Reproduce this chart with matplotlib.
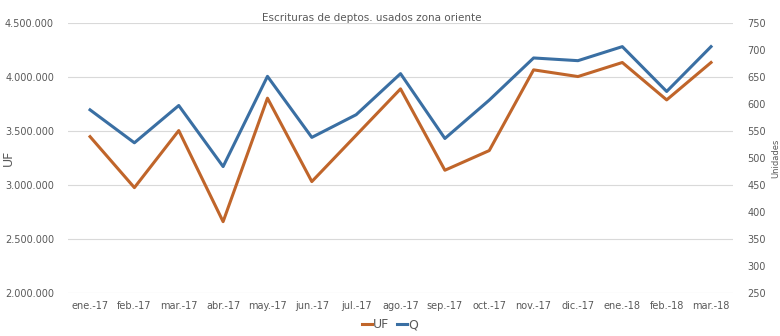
import matplotlib.pyplot as plt
from matplotlib.ticker import FuncFormatter

months = ['ene.-17', 'feb.-17', 'mar.-17', 'abr.-17', 'may.-17', 'jun.-17', 'jul.-17',
          'ago.-17', 'sep.-17', 'oct.-17', 'nov.-17', 'dic.-17', 'ene.-18', 'feb.-18', 'mar.-18']
uf = [3447000, 2975000, 3503000, 2660000, 3803000, 3031000, 3460000,
      3889000, 3136000, 3318000, 4065000, 4003000, 4133000, 3787000, 4133000]
q = [589, 528, 597, 484, 651, 538, 580, 656, 536, 607, 685, 680, 706, 623, 706]

orange = '#C0652A'
blue = '#3A6FA3'
gray = '#595959'

fig = plt.figure(figsize=(7.8, 3.36), dpi=100)
ax = fig.add_axes([0.087, 0.128, 0.853, 0.804])
ax2 = ax.twinx()

x = range(len(months))
l1, = ax.plot(x, uf, color=orange, lw=2.2, label='UF')
l2, = ax2.plot(x, q, color=blue, lw=2.2, label='Q')

ax.set_xlim(-0.5, len(months) - 0.5)
ax.set_ylim(2000000, 4500000)
ax.set_yticks(range(2000000, 4500001, 500000))
ax.yaxis.set_major_formatter(FuncFormatter(lambda v, p: f'{int(v):,}'.replace(',', '.')))
ax2.set_ylim(250, 750)
ax2.set_yticks(range(250, 751, 50))

ax.set_xticks(list(x))
ax.set_xticklabels(months)
ax.grid(axis='y', color='#d9d9d9', lw=0.8)
ax.set_axisbelow(True)

for a in (ax, ax2):
    for s in a.spines.values():
        s.set_visible(False)
    a.tick_params(length=0, labelsize=7, colors=gray)
ax.tick_params(axis='x', pad=6)
ax.tick_params(axis='y', pad=10)
ax2.tick_params(axis='y', pad=10)

ax.set_ylabel('UF', fontsize=9, color=gray)
ax.yaxis.set_label_coords(-0.08, 0.5)
ax2.set_ylabel('Unidades', fontsize=6, color=gray, labelpad=4)

fig.text(0.477, 0.945, 'Escrituras de deptos. usados zona oriente', ha='center', va='center',
         fontsize=7.5, color=gray)

fig.legend(handles=[l1, l2], loc='lower center', bbox_to_anchor=(0.5, -0.02), ncol=2,
           frameon=False, fontsize=9, handlelength=0.8, handletextpad=0.1, columnspacing=0.6,
           labelcolor=gray)

fig.savefig('out.png', dpi=100)
